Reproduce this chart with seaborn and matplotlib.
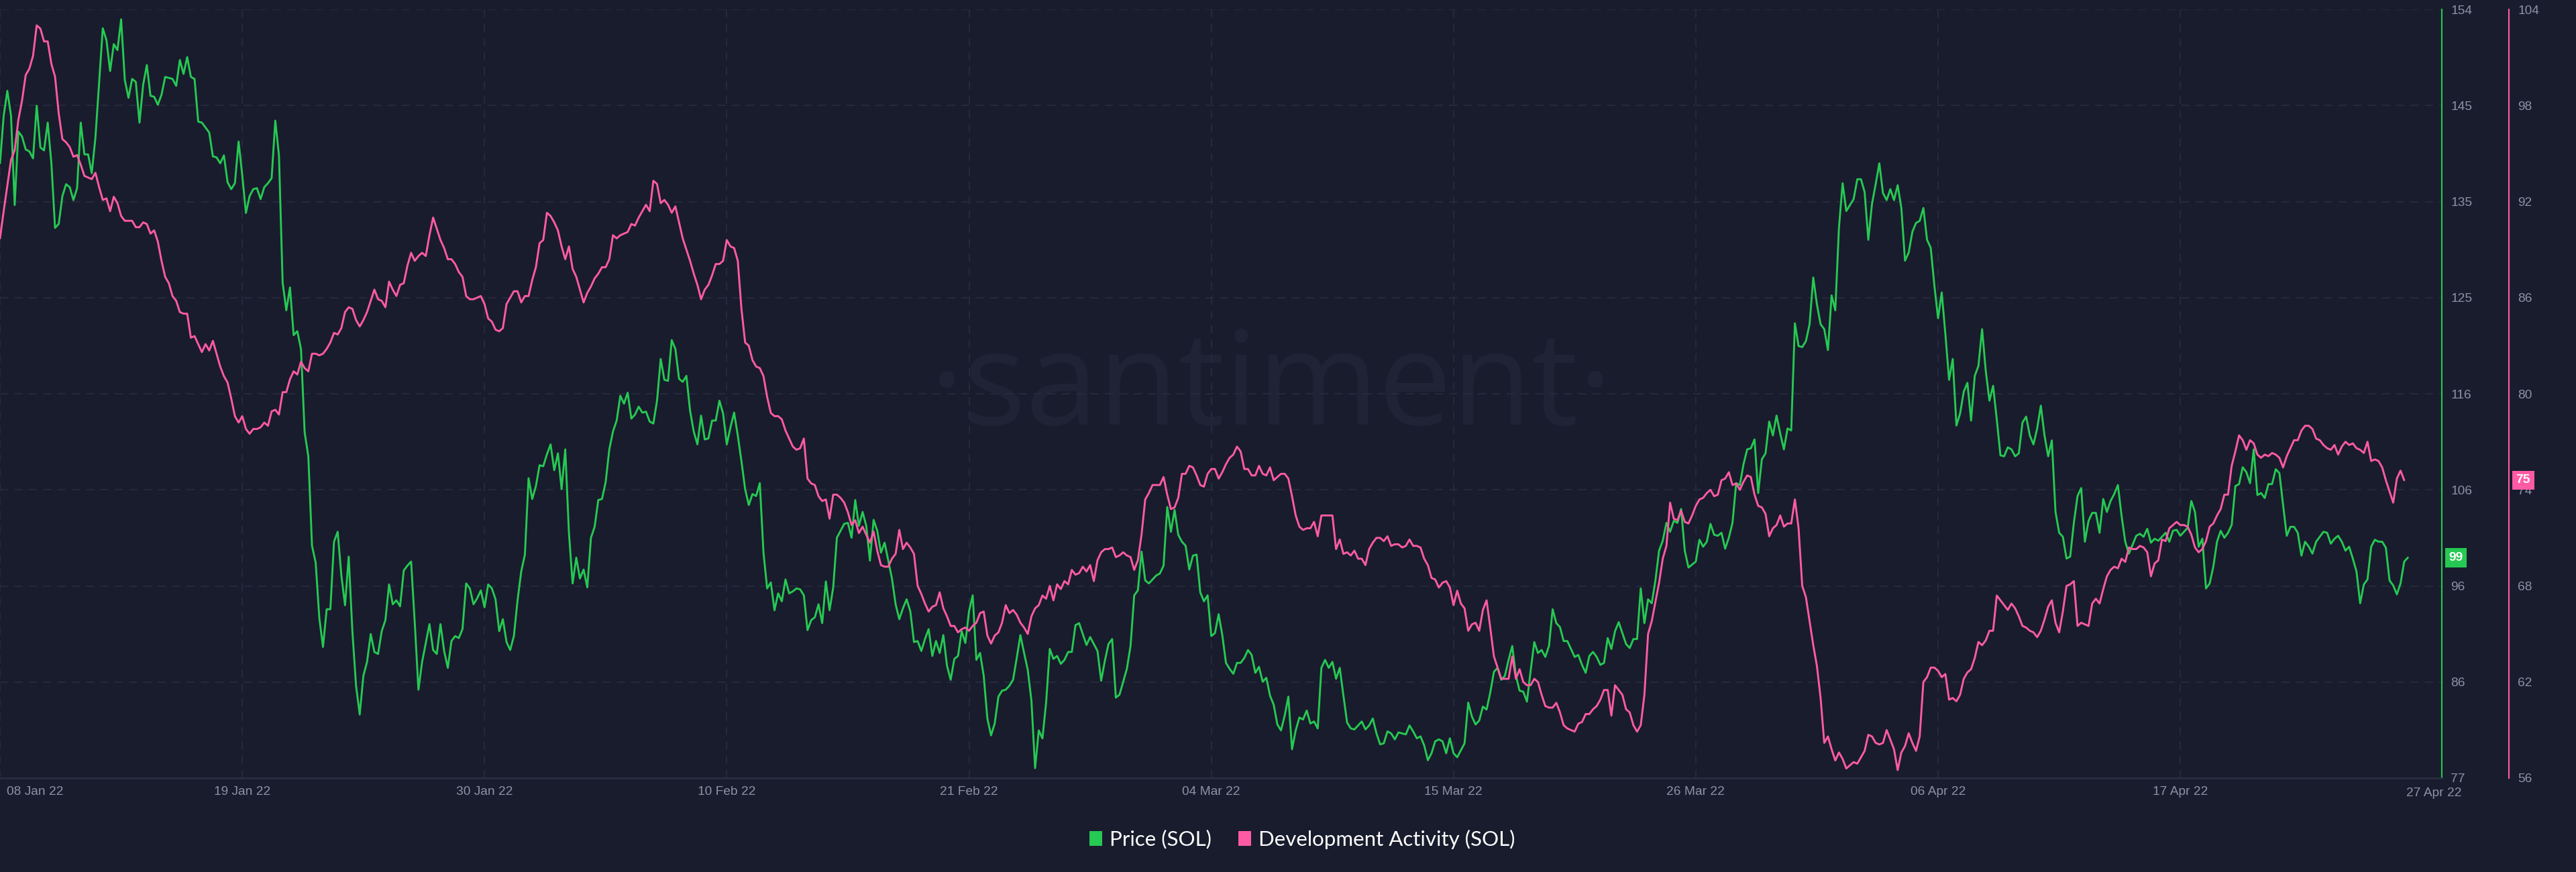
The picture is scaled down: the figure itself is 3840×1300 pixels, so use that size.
import numpy as np
import pandas as pd
import matplotlib
matplotlib.use("Agg")
import matplotlib.pyplot as plt
import matplotlib.transforms as mtransforms
from matplotlib.patches import Patch
import seaborn as sns

# ---------------- data (4-hourly samples from 08 Jan 2022 00:00) ----------------
start_time = "2022-01-08 00:00"
sample_freq = "4h"
view_end = "2022-04-28 21:00"

price_seg1 = [
    138.7, 143.5, 146.0, 143.5, 134.5, 141.9, 141.4, 140.1, 139.9, 139.2,
    144.5, 140.3, 140.0, 142.8, 138.7, 132.2, 132.6, 135.4, 136.6, 136.3,
    135.0, 136.2, 142.8, 139.6, 139.6, 137.7, 141.3, 146.8, 152.3, 151.1,
    148.0, 150.7, 150.1, 153.2, 147.1, 145.3, 147.2, 146.9, 142.8, 146.6,
    148.6, 145.5, 145.4, 144.6, 145.6, 147.4, 147.3, 147.2, 146.5, 149.1,
    147.7, 149.4, 147.4, 147.2, 142.9, 142.8, 142.3, 141.8, 139.4, 139.3,
    138.7, 139.5, 136.8, 136.1, 136.7, 140.9, 137.5, 133.7, 135.4, 136.1,
    136.2, 135.1, 136.3, 136.7, 137.2, 143.0, 139.5, 126.7, 123.9, 126.2,
    121.4, 121.8, 120.0, 111.6, 109.2, 100.2, 98.5, 92.9, 90.0, 93.8,
    93.8, 100.6, 101.6, 97.2, 94.2, 99.1, 91.6, 86.1, 83.2, 87.1,
    88.5, 91.3, 89.5, 89.3, 91.6, 92.7, 96.3, 94.3, 94.7, 94.1,
    97.7, 98.2, 98.6, 92.4, 85.7, 88.5, 90.4, 92.3, 89.7, 89.3,
    92.3, 89.6, 87.9, 90.6, 91.1, 90.9, 91.8, 96.4, 95.9, 94.3,
    94.9, 95.7, 94.0, 96.3,
]
price_seg2 = [
    95.9, 94.8, 91.6, 92.8, 90.5, 89.7, 91.1, 94.7, 97.6, 99.3,
    107.0, 104.9, 106.2, 108.3, 108.2, 109.4, 110.4, 107.8, 109.5, 105.9,
    109.9, 101.5, 96.4, 99.0, 96.9, 97.8, 96.0, 101.0, 102.1, 104.8,
    104.9, 106.6, 109.9, 111.7, 112.8, 115.3, 114.5, 115.6, 113.0, 113.4,
    114.2, 113.6, 113.7, 112.7, 112.5, 114.8, 119.0, 116.9, 116.8, 120.9,
    120.0, 117.0, 116.7, 117.3, 113.8, 111.7, 110.4, 113.3, 110.9, 111.0,
    112.8, 112.8, 114.8, 113.5, 110.4, 112.1, 113.6, 111.3, 108.7, 105.9,
    104.3, 105.4, 105.2, 106.5, 99.5, 95.9, 96.5, 93.7, 95.4, 94.6,
    96.8, 95.4, 95.6, 95.9, 95.8, 95.2, 91.7, 92.7, 93.0, 94.3,
    92.4, 96.6, 93.7, 96.0, 101.0, 101.7, 102.4, 102.5, 101.0, 104.8,
    102.2, 103.6, 102.2, 98.7, 102.8, 101.7, 99.5, 100.5, 98.7, 96.9,
    94.3, 92.8, 93.9, 94.8, 93.6, 90.5, 90.6, 89.6, 90.8, 91.8,
    89.1, 90.6, 89.4, 91.2, 88.1, 86.7, 88.8, 89.1, 91.6, 90.4,
    93.6, 95.2, 88.7,
]
price_seg3 = [
    89.4, 87.1, 82.8, 81.1, 82.3, 85.0, 85.6, 85.7, 86.1, 86.7,
    88.9, 91.2, 89.4, 87.7, 84.6, 77.8, 81.6, 80.8, 84.4, 89.8,
    88.8, 89.1, 88.3, 88.7, 89.5, 89.5, 92.2, 92.4, 91.3, 90.2,
    91.0, 90.3, 89.6, 86.6, 88.6, 90.3, 90.8, 84.9, 85.2, 86.5,
    87.8, 90.1, 95.2, 95.7, 99.6, 96.7, 96.4, 96.8, 97.2, 97.4,
    98.2, 104.1, 101.6, 103.8, 101.3, 100.6, 100.2, 97.8, 99.2, 99.3,
    95.5, 94.6, 95.2, 91.1, 91.4, 93.3, 91.2, 88.4, 87.8, 87.3,
    88.4, 88.4, 88.9, 89.7, 89.2, 87.4, 88.0, 86.5, 86.9, 85.1,
    84.2, 82.2, 81.6, 83.1, 85.0, 79.7, 81.6, 82.9, 82.7, 83.6,
    82.3, 82.5, 81.8, 87.9, 88.7, 87.9, 88.5, 86.8, 87.9, 85.1,
    82.4, 81.8, 81.7, 82.1, 82.5, 81.7, 82.1, 82.8, 81.3, 80.2,
    80.3, 81.5, 81.3, 80.7, 81.4, 81.3, 81.2, 82.1, 81.5, 80.8,
    81.0, 80.1, 78.6, 79.3, 80.5, 80.7, 80.5, 79.3, 80.8, 79.3,
    78.9, 79.6, 80.3, 84.4,
]
price_seg4 = [
    83.0, 82.2, 82.6, 84.0, 83.7, 85.4, 87.5, 87.9, 86.7, 87.1,
    88.7, 90.1, 87.1, 85.6, 85.5, 84.5, 87.6, 90.5, 89.4, 89.7,
    89.0, 90.1, 93.8, 92.4, 92.0, 90.6, 90.6, 89.8, 89.0, 89.2,
    88.2, 87.4, 89.1, 89.5, 89.0, 88.2, 88.4, 90.9, 89.8, 91.6,
    92.5, 91.4, 90.3, 89.9, 90.8, 90.8, 95.9, 92.4, 94.8, 94.4,
    96.7, 99.7, 100.7, 102.5, 101.6, 102.7, 102.5, 103.9, 99.7, 98.0,
    98.3, 98.6, 100.8, 100.1, 100.6, 102.4, 101.3, 101.2, 101.5, 99.9,
    101.0, 102.5, 106.5, 106.3, 108.4, 109.9, 110.0, 110.9, 105.5, 108.9,
    109.5, 112.7, 111.3, 113.3, 111.5, 109.9, 112.0, 111.8, 122.6, 120.3,
    120.2, 120.8, 122.5, 127.2, 124.5, 122.5, 122.0, 119.9, 125.4, 123.9,
    132.2, 136.7, 133.9, 134.5, 135.1, 137.1, 137.1, 135.8, 131.0, 134.6,
    136.6, 138.7, 135.7, 135.0, 136.1, 135.0, 136.5, 134.2, 128.9, 129.7,
    131.8, 132.7, 132.9, 134.2, 131.0, 130.2, 126.4, 123.1, 125.7, 121.5,
    116.9, 119.0, 112.3,
]
price_seg5 = [
    113.5, 115.7, 116.6, 112.8, 117.3, 118.3, 122.0, 117.8, 114.8, 116.3,
    112.9, 109.3, 109.2, 110.1, 109.9, 109.2, 109.5, 112.6, 113.2, 111.3,
    110.4, 112.0, 114.3, 111.3, 109.2, 110.8, 103.6, 101.5, 101.1, 98.9,
    99.1, 102.5, 105.2, 106.0, 100.6, 102.7, 103.5, 103.5, 101.5, 104.9,
    103.6, 104.7, 105.4, 106.3, 103.2, 100.6, 99.4, 100.3, 101.2, 101.4,
    101.1, 101.9, 100.5, 100.9, 100.7, 101.1, 101.5, 100.6, 101.7, 101.8,
    101.2, 101.6, 102.0, 104.7, 103.6, 100.1, 100.9, 95.9, 96.4, 98.1,
    100.6, 101.7, 101.0, 101.5, 102.3, 106.2, 106.4, 108.1, 107.6, 106.5,
    109.9, 105.3, 105.5, 105.0, 106.4, 106.4, 107.9, 107.5, 104.3, 101.2,
    102.1, 102.1, 101.5, 99.2, 100.6, 100.1, 99.4, 100.6, 101.1, 101.6,
    101.5, 100.4, 100.9, 101.2, 100.6, 99.7, 100.1, 98.9, 97.6, 94.4,
    96.3, 96.8, 100.1, 100.8, 100.6, 100.6, 100.0, 96.7, 96.2, 95.3,
    96.4, 98.6, 99.0,
]

dev_seg1 = [
    89.7, 91.4, 93.0, 94.6, 95.2, 97.1, 98.3, 99.9, 100.3, 101.1,
    103.0, 102.8, 102.0, 102.0, 100.6, 99.8, 97.5, 95.9, 95.7, 95.4,
    94.8, 94.9, 94.3, 93.6, 93.5, 93.4, 93.8, 92.9, 92.1, 92.2,
    91.4, 92.3, 91.9, 91.1, 90.8, 90.8, 90.8, 90.4, 90.4, 90.7,
    90.6, 90.0, 90.2, 89.5, 88.3, 87.3, 86.9, 86.1, 85.8, 85.1,
    85.0, 85.0, 83.5, 83.6, 83.1, 82.6, 83.1, 82.7, 83.3, 82.5,
    81.7, 81.1, 80.7, 79.7, 78.6, 78.2, 78.6, 77.8, 77.5, 77.8,
    77.8, 77.9, 78.2, 78.0, 78.9, 79.0, 78.7, 80.1, 80.1, 80.9,
    81.4, 81.2, 82.0, 81.6, 81.4, 82.5, 82.5, 82.4, 82.5, 82.8,
    83.2, 83.8, 83.7, 84.1, 85.1, 85.4, 85.3, 84.6, 84.2, 84.6,
    85.1, 85.8, 86.5, 85.9, 85.8, 85.4, 87.0, 86.5, 86.1, 86.8,
    86.9, 88.0, 88.8, 88.3, 88.6, 88.8, 88.6, 89.9, 91.0, 90.3,
    89.6, 89.1, 88.4, 88.4, 88.1, 87.6, 87.3, 86.1, 85.9, 85.9,
    86.0, 86.1, 85.6, 84.7,
]
dev_seg2 = [
    84.5, 84.0, 83.9, 84.1, 85.6, 86.0, 86.4, 86.4, 85.7, 86.1,
    86.1, 87.1, 87.9, 89.4, 89.6, 91.3, 91.1, 90.7, 90.2, 89.2,
    88.4, 89.2, 87.8, 87.3, 86.5, 85.7, 86.3, 86.7, 87.2, 87.5,
    87.9, 87.9, 88.4, 89.9, 89.7, 89.9, 90.0, 90.1, 90.6, 90.5,
    91.0, 91.4, 91.8, 91.4, 93.3, 93.1, 91.9, 92.1, 91.8, 91.3,
    91.7, 90.7, 89.7, 89.0, 88.3, 87.5, 86.8, 85.9, 86.5, 86.8,
    87.4, 88.1, 88.1, 88.3, 89.6, 89.2, 89.1, 88.3, 85.3, 83.2,
    83.0, 82.1, 81.7, 81.6, 81.1, 79.8, 78.8, 78.6, 78.6, 78.4,
    77.7, 77.2, 76.7, 76.5, 76.6, 77.2, 74.7, 74.4, 74.3, 73.6,
    73.3, 73.4, 72.2, 73.7, 73.7, 73.5, 73.2, 72.6, 71.8, 72.1,
    71.3, 71.7, 71.2, 70.7, 71.4, 70.2, 69.3, 69.2, 69.2, 69.7,
    70.0, 71.5, 70.3, 70.7, 70.4, 70.0, 68.0, 67.5, 66.9, 66.4,
    66.7, 66.8, 67.6, 66.6, 66.1, 65.5, 65.5, 65.1, 65.3, 65.4,
    65.2, 65.5, 65.7,
]
dev_seg3 = [
    66.3, 66.4, 64.9, 64.4, 64.9, 65.1, 65.7, 66.8, 66.3, 66.5,
    66.2, 65.7, 65.4, 65.0, 66.1, 66.6, 66.8, 67.4, 67.2, 68.0,
    67.1, 68.1, 67.8, 68.3, 68.1, 69.0, 68.7, 68.8, 69.2, 68.9,
    69.3, 68.3, 69.6, 70.1, 70.3, 70.3, 70.4, 69.8, 69.9, 70.1,
    69.9, 69.8, 69.0, 69.6, 71.2, 73.4, 73.8, 74.3, 74.3, 74.3,
    74.8, 73.7, 72.8, 72.9, 73.5, 75.0, 75.0, 75.5, 75.4, 74.9,
    74.3, 74.2, 75.0, 75.3, 75.3, 74.7, 75.1, 75.6, 76.0, 76.2,
    76.7, 76.4, 75.3, 75.3, 74.9, 74.9, 75.5, 75.0, 74.9, 75.4,
    74.6, 74.8, 75.0, 75.0, 74.7, 73.6, 72.4, 71.7, 71.5, 71.6,
    71.6, 72.0, 71.1, 72.4, 72.4, 72.4, 72.4, 70.3, 70.9, 70.0,
    70.1, 69.9, 70.2, 69.7, 69.7, 69.3, 70.3, 70.7, 71.0, 71.0,
    70.8, 71.1, 70.5, 70.6, 70.6, 70.4, 70.5, 70.9, 70.5, 70.5,
    70.4, 69.7, 69.3, 68.5, 68.4, 67.9, 68.2, 68.3, 67.9, 66.8,
    67.7, 66.9, 66.6, 65.2,
]
dev_seg4 = [
    65.6, 65.7, 65.2, 66.5, 67.1, 65.4, 63.6, 62.9, 62.2, 62.2,
    62.2, 63.6, 62.2, 62.8, 62.0, 61.8, 61.8, 62.2, 62.0, 61.2,
    60.5, 60.4, 60.4, 60.7, 60.1, 59.3, 59.1, 59.0, 58.9, 59.4,
    59.5, 60.0, 60.0, 60.3, 60.5, 60.9, 61.5, 61.5, 59.9, 61.8,
    61.5, 61.2, 60.3, 60.1, 59.3, 58.9, 59.3, 61.2, 65.0, 65.8,
    67.0, 68.2, 69.7, 70.5, 73.2, 72.2, 72.1, 72.7, 72.0, 71.9,
    72.4, 73.0, 73.4, 73.5, 73.8, 74.0, 73.6, 73.7, 74.6, 74.7,
    75.1, 74.3, 74.4, 74.0, 74.5, 74.9, 74.8, 73.7, 73.0, 72.9,
    72.5, 71.1, 71.6, 71.8, 72.4, 71.7, 71.9, 71.9, 73.4, 71.6,
    68.0, 67.3, 65.8, 64.3, 63.0, 61.0, 58.2, 58.6, 57.8, 57.1,
    57.6, 57.2, 56.6, 56.8, 57.0, 56.9, 57.3, 57.7, 58.7, 58.6,
    58.2, 58.1, 58.2, 59.0, 58.4, 57.8, 56.5, 57.6, 58.0, 58.8,
    58.2, 57.7, 58.6, 62.0, 62.3, 62.9, 62.9, 62.7, 62.3, 62.5,
    60.9, 61.0, 60.8,
]
dev_seg5 = [
    61.2, 62.2, 62.6, 62.8, 63.5, 64.5, 64.3, 64.6, 65.2, 65.2,
    67.4, 67.1, 66.8, 66.5, 66.9, 66.6, 66.1, 65.5, 65.4, 65.2,
    65.1, 64.8, 65.2, 65.9, 66.7, 67.1, 65.7, 65.1, 66.4, 68.0,
    68.1, 68.3, 65.5, 65.7, 65.6, 65.5, 66.9, 67.2, 66.9, 67.8,
    68.6, 69.0, 69.2, 69.1, 69.7, 69.5, 70.4, 70.3, 70.3, 70.5,
    70.4, 70.1, 68.6, 69.4, 69.6, 70.9, 70.8, 71.6, 71.8, 72.0,
    71.8, 71.8, 71.7, 71.2, 70.4, 70.1, 70.3, 70.8, 71.7, 71.9,
    72.4, 72.8, 73.7, 73.7, 75.5, 76.4, 77.4, 77.1, 76.5, 77.1,
    76.9, 76.2, 76.0, 76.2, 76.1, 76.3, 76.2, 76.0, 75.4, 76.1,
    76.6, 77.1, 77.1, 77.7, 78.0, 78.0, 77.8, 77.2, 77.1, 76.8,
    76.6, 76.5, 76.8, 76.2, 76.7, 77.0, 76.8, 76.9, 76.6, 76.5,
    76.3, 77.0, 75.8, 75.9, 75.8, 75.4, 74.6, 73.9, 73.2, 74.7,
    75.2, 74.6,
]

price_values = price_seg1 + price_seg2 + price_seg3 + price_seg4 + price_seg5
dev_values = dev_seg1 + dev_seg2 + dev_seg3 + dev_seg4 + dev_seg5

price_range = [76.8, 154.2]
price_tick_labels = ["77", "86", "96", "106", "116", "125", "135", "145", "154"]
dev_range = [56, 104]
dev_tick_labels = ["56", "62", "68", "74", "80", "86", "92", "98", "104"]
date_ticks = ["2022-01-08", "2022-01-19", "2022-01-30", "2022-02-10", "2022-02-21",
              "2022-03-04", "2022-03-15", "2022-03-26", "2022-04-06", "2022-04-17"]
date_tick_labels = ["08 Jan 22", "19 Jan 22", "30 Jan 22", "10 Feb 22", "21 Feb 22",
                    "04 Mar 22", "15 Mar 22", "26 Mar 22", "06 Apr 22", "17 Apr 22"]
end_date_label = "27 Apr 22"
series_names = ["Price (SOL)", "Development Activity (SOL)"]
watermark_text = "\u00b7santiment\u00b7"

# ---------------- style ----------------
BG = "#191c2c"
GREEN = "#26c953"
PINK = "#ff5ba5"
GRID = "#292d41"
AXISLINE = "#2a2e42"
TICK = "#8a92a8"
WATERMARK = "#202336"

sns.set_style("dark", {"axes.facecolor": BG, "figure.facecolor": BG})
plt.rcParams["font.family"] = ["Liberation Sans", "DejaVu Sans"]

W, H = 3840, 1300
fig = plt.figure(figsize=(W / 100, H / 100), dpi=100)
fig.patch.set_facecolor(BG)

plot_left, plot_right, plot_top, plot_bottom = 0, 3640, 14, 1160
ax = fig.add_axes([plot_left / W, (H - plot_bottom) / H,
                   (plot_right - plot_left) / W, (plot_bottom - plot_top) / H])
ax.set_facecolor(BG)
ax2 = ax.twinx()

price_df = pd.DataFrame({
    "time": pd.date_range(start_time, periods=len(price_values), freq=sample_freq),
    "value": price_values,
})
dev_df = pd.DataFrame({
    "time": pd.date_range(start_time, periods=len(dev_values), freq=sample_freq),
    "value": dev_values,
})

sns.lineplot(data=price_df, x="time", y="value", ax=ax, color=GREEN,
             linewidth=2.1, legend=False, zorder=3)
sns.lineplot(data=dev_df, x="time", y="value", ax=ax2, color=PINK,
             linewidth=2.1, legend=False, zorder=3)

for a in (ax, ax2):
    a.set_xlabel("")
    a.set_ylabel("")

# x axis
ax.set_xlim(pd.Timestamp(start_time), pd.Timestamp(view_end))
ax.set_xticks(pd.to_datetime(date_ticks))
ax.set_xticklabels(date_tick_labels)
ax.tick_params(axis="x", length=0, pad=8.5, labelsize=13.8, labelcolor=TICK)
first = ax.get_xticklabels()[0]
first.set_ha("left")
first.set_transform(first.get_transform() +
                    mtransforms.ScaledTranslation(10 / 100, 0, fig.dpi_scale_trans))
ax.annotate(end_date_label, xy=(1.0, 0.0), xycoords="axes fraction",
            xytext=(-8.5, -16.0), textcoords="offset points", ha="center",
            va="center", fontsize=13.8, color=TICK, annotation_clip=False)

# y axes
ax.set_ylim(*price_range)
ax.set_yticks(np.linspace(price_range[0], price_range[1], len(price_tick_labels)))
ax.set_yticklabels(price_tick_labels)
ax.yaxis.tick_right()
ax.tick_params(axis="y", length=0, pad=9.5, labelsize=13.8, labelcolor=TICK)

ax2.set_ylim(*dev_range)
ax2.set_yticks(np.linspace(dev_range[0], dev_range[1], len(dev_tick_labels)))
ax2.set_yticklabels(dev_tick_labels)
ax2.tick_params(axis="y", length=0, pad=9.5, labelsize=13.8, labelcolor=TICK)
dev_axis_pos = 3740 / 3640
ax2.spines["right"].set_position(("axes", dev_axis_pos))

# spines
for s in ("left", "top"):
    ax.spines[s].set_visible(False)
for s in ("left", "top", "bottom"):
    ax2.spines[s].set_visible(False)
ax.spines["right"].set_color(GREEN)
ax.spines["right"].set_linewidth(1.5)
ax.spines["bottom"].set_color(AXISLINE)
ax.spines["bottom"].set_linewidth(1.8)
ax2.spines["right"].set_color(PINK)
ax2.spines["right"].set_linewidth(1.5)

# grid
ax.set_axisbelow(True)
ax.grid(True, axis="both", color=GRID, linestyle=(0, (8, 6)), linewidth=1.1)
ax2.grid(False)

# watermark
ax.text(0.5206, 0.46, watermark_text, transform=ax.transAxes, ha="center",
        va="baseline", fontsize=140, family="Open Sans", color=WATERMARK, zorder=0.2)

# last value badges
trans_price = mtransforms.blended_transform_factory(ax.transAxes, ax.transData)
ax.annotate(f"{price_values[-1]:.0f}", xy=(1.0, price_values[-1]), xycoords=trans_price,
            xytext=(7.5, 0), textcoords="offset points", ha="left", va="center",
            fontsize=13.8, fontweight="bold", color="white",
            bbox=dict(boxstyle="square,pad=0.3", fc=GREEN, ec="none"),
            annotation_clip=False, zorder=10)
trans_dev = mtransforms.blended_transform_factory(ax2.transAxes, ax2.transData)
ax2.annotate(f"{dev_values[-1]:.0f}", xy=(dev_axis_pos, dev_values[-1]), xycoords=trans_dev,
             xytext=(7.5, 0), textcoords="offset points", ha="left", va="center",
             fontsize=13.8, fontweight="bold", color="white",
             bbox=dict(boxstyle="square,pad=0.3", fc=PINK, ec="none"),
             annotation_clip=False, zorder=10)

# legend
handles = [Patch(facecolor=GREEN, edgecolor="none", label=series_names[0]),
           Patch(facecolor=PINK, edgecolor="none", label=series_names[1])]
fig.legend(handles=handles, loc="center", bbox_to_anchor=(0.5055, 0.0377), ncol=2,
           frameon=False, prop={"family": "Lato", "size": 22.5}, labelcolor="white",
           handlelength=0.6, handleheight=0.7, handletextpad=0.35, columnspacing=1.3)

fig.savefig("out.png", dpi=100, facecolor=BG)
